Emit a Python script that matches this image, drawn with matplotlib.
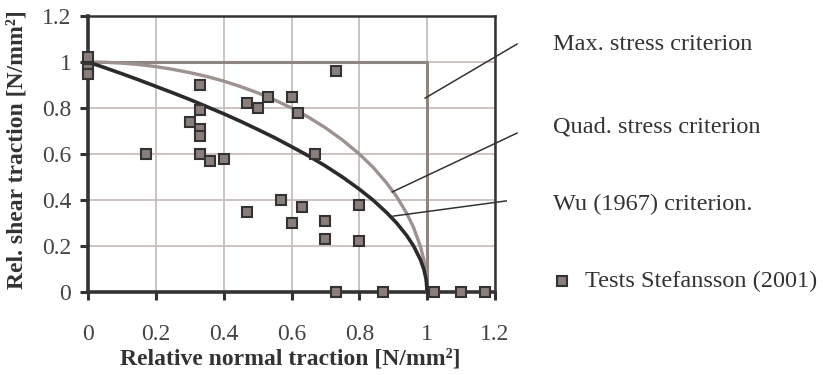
import matplotlib
matplotlib.use("Agg")
import matplotlib.pyplot as plt

plt.rcParams['font.family'] = ['Liberation Serif', 'DejaVu Serif']

# Test data (Stefansson 2001)
test_x = [0, 0, 0, 0.17, 0.30, 0.33, 0.33, 0.33, 0.33, 0.33, 0.36, 0.40,
          0.47, 0.50, 0.53, 0.60, 0.62, 0.67, 0.73,
          0.47, 0.57, 0.60, 0.63, 0.70, 0.70, 0.80, 0.80,
          0.73, 0.87, 1.02, 1.10, 1.17]
test_y = [1.02, 0.97, 0.95, 0.60, 0.74, 0.90, 0.79, 0.71, 0.68, 0.60, 0.57, 0.58,
          0.82, 0.80, 0.85, 0.85, 0.78, 0.60, 0.96,
          0.35, 0.40, 0.30, 0.37, 0.31, 0.23, 0.38, 0.22,
          0, 0, 0, 0, 0]

# Max. stress criterion
max_x = [0, 1, 1]
max_y = [1, 1, 0]

# Quad. stress criterion
quad_x = [0, 0.05, 0.1, 0.15, 0.2, 0.25, 0.3, 0.35, 0.4, 0.45, 0.5, 0.55, 0.6, 0.65, 0.7,
          0.75, 0.8, 0.84, 0.88, 0.91, 0.94, 0.96, 0.98, 0.99, 0.997, 1.0]
quad_y = [1, 0.999, 0.995, 0.989, 0.980, 0.968, 0.954, 0.937, 0.917, 0.893, 0.866, 0.835,
          0.800, 0.760, 0.714, 0.661, 0.600, 0.543, 0.475, 0.415, 0.341, 0.280, 0.199,
          0.141, 0.077, 0]

# Wu (1967) criterion
wu_x = [0, 0.05, 0.1, 0.15, 0.2, 0.25, 0.3, 0.35, 0.4, 0.45, 0.5, 0.55, 0.6, 0.65, 0.7,
        0.75, 0.8, 0.84, 0.88, 0.91, 0.94, 0.96, 0.98, 0.99, 0.997, 1.0]
wu_y = [1, 0.975, 0.949, 0.922, 0.894, 0.866, 0.837, 0.806, 0.775, 0.742, 0.707, 0.671,
        0.632, 0.592, 0.548, 0.500, 0.447, 0.400, 0.346, 0.300, 0.245, 0.200, 0.141,
        0.100, 0.055, 0]

ticks = [0, 0.2, 0.4, 0.6, 0.8, 1, 1.2]
tick_labels = ['0', '0.2', '0.4', '0.6', '0.8', '1', '1.2']

fig = plt.figure(figsize=(8.23, 3.75), dpi=100)
W, H = 823, 375
ax = fig.add_axes([88 / W, 1 - 292 / H, (495 - 88) / W, (292 - 16) / H])

grid_c = '#c9bebc'
ax.set_xlim(0, 1.2)
ax.set_ylim(0, 1.2)
ax.set_xticks(ticks)
ax.set_xticklabels(tick_labels)
ax.set_yticks(ticks)
ax.set_yticklabels(tick_labels)
ax.grid(True, color=grid_c, linewidth=1.3)
ax.set_axisbelow(True)

for s in ['left', 'bottom']:
    ax.spines[s].set_linewidth(2.6)
    ax.spines[s].set_color('#333333')
for s in ['top', 'right']:
    ax.spines[s].set_linewidth(1.8)
    ax.spines[s].set_color('#333333')

ax.tick_params(axis='x', direction='out', length=6, width=2.2, color='#333333',
               pad=17, labelsize=17, labelcolor='#444444')
ax.tick_params(axis='y', direction='out', length=6, width=2.2, color='#333333',
               pad=6, labelsize=17, labelcolor='#444444')

ax.plot(max_x, max_y, color='#8e8480', linewidth=2.2, zorder=3)
ax.plot(quad_x, quad_y, color='#9d928f', linewidth=2.4, zorder=3)
ax.plot(wu_x, wu_y, color='#2b2b2b', linewidth=2.6, zorder=3)

ax.plot(test_x, test_y, linestyle='none', marker='s', markersize=7.5,
        markerfacecolor='#8a7e7b', markeredgecolor='#333333', markeredgewidth=1.5,
        clip_on=False, zorder=5)

# leader lines to labels
ax.plot([0.994, 1.265], [0.843, 1.078], color='#333333', linewidth=1.1, clip_on=False, zorder=4)
ax.plot([0.897, 1.265], [0.435, 0.691], color='#333333', linewidth=1.1, clip_on=False, zorder=4)
ax.plot([0.900, 1.233], [0.330, 0.396], color='#333333', linewidth=1.1, clip_on=False, zorder=4)

txt_c = '#333333'
fs = 17.5
fig.text(553 / W, 1 - 45 / H, 'Max. stress criterion', fontsize=fs, color=txt_c, va='center', ha='left')
fig.text(553 / W, 1 - 127 / H, 'Quad. stress criterion', fontsize=fs, color=txt_c, va='center', ha='left')
fig.text(553 / W, 1 - 204 / H, 'Wu (1967) criterion.', fontsize=fs, color=txt_c, va='center', ha='left')

# legend-like marker and text
fig.lines.append(plt.Line2D([562 / W], [1 - 281 / H], transform=fig.transFigure,
                            marker='s', markersize=7.5, markerfacecolor='#8a7e7b',
                            markeredgecolor='#333333', markeredgewidth=1.5, linestyle='none'))
fig.text(585 / W, 1 - 281 / H, 'Tests Stefansson (2001)', fontsize=fs, color=txt_c, va='center', ha='left')

fig.text(290 / W, 1 - 359 / H, 'Relative normal traction [N/mm²]', fontsize=17,
         fontweight='bold', color=txt_c, ha='center', va='center')
fig.text(17 / W, 1 - 150 / H, 'Rel. shear traction [N/mm²]', fontsize=17,
         fontweight='bold', color=txt_c, ha='center', va='center', rotation=90)

fig.savefig('out.png', dpi=100)
